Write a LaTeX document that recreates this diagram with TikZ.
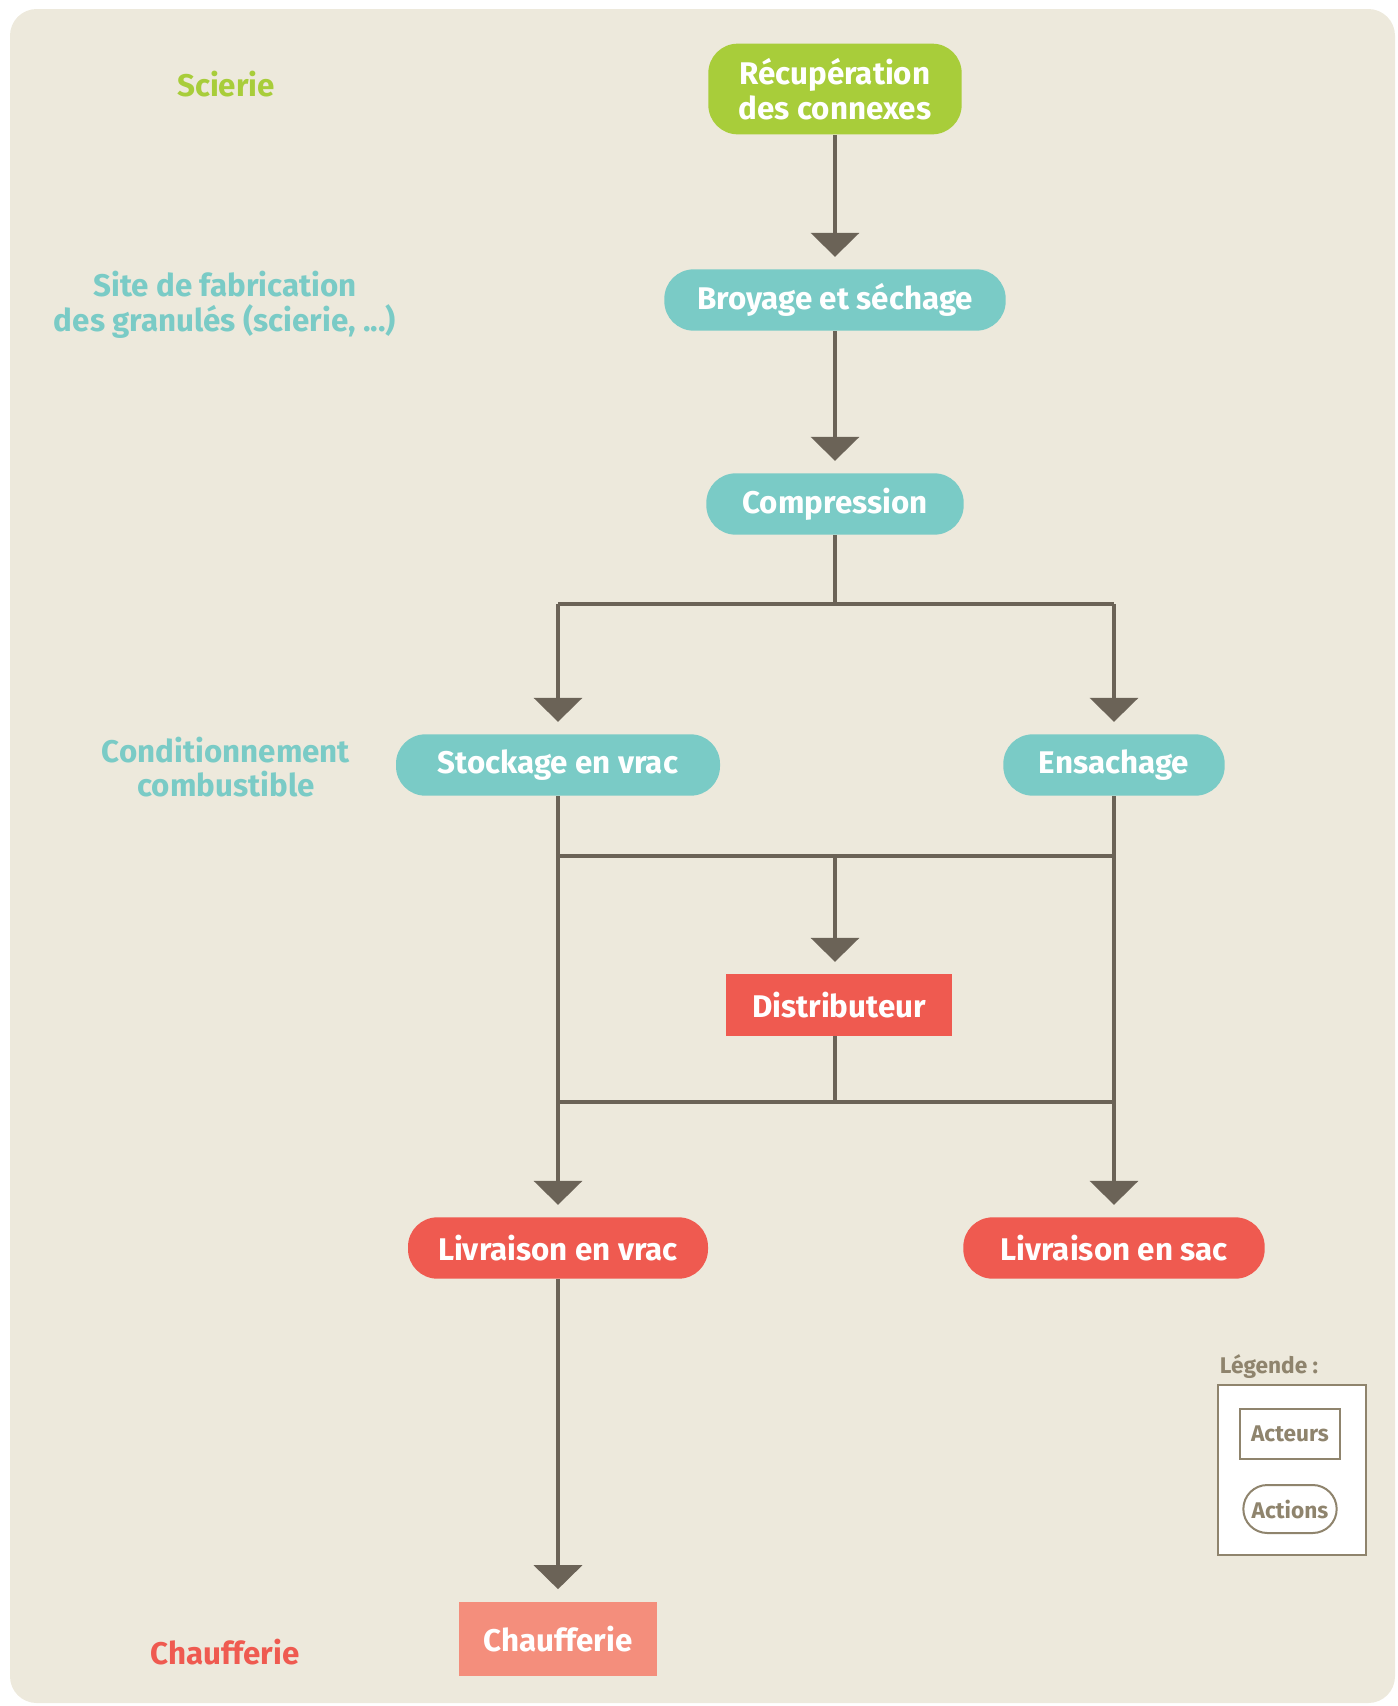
\documentclass[tikz,border=0pt]{standalone}
\usepackage{fontspec}
\setmainfont{Fira Sans}
\usetikzlibrary{arrows.meta}

\definecolor{fond}{HTML}{EDE9DC}
\definecolor{vert}{HTML}{A8CD3A}
\definecolor{turquoise}{HTML}{7ACBC6}
\definecolor{rouge}{HTML}{EF5A50}
\definecolor{saumon}{HTML}{F48E7C}
\definecolor{trait}{HTML}{6B6357}
\definecolor{legende}{HTML}{8F846D}

\tikzset{every picture/.style={line width=0.75pt}}
\tikzset{
  action/.style={rounded corners=22pt, minimum height=46pt, inner sep=0pt, text=white, font=\fontsize{23.5}{26}\selectfont\bfseries, align=center},
  acteur/.style={rectangle, minimum height=46pt, inner sep=0pt, text=white, font=\fontsize{23.5}{26}\selectfont\bfseries},
  etape/.style={font=\fontsize{23.5}{26}\selectfont\bfseries, align=center},
  liaison/.style={draw=trait, line width=3pt},
  fleche/.style={liaison, -{Triangle[width=36pt,length=18pt]}, shorten >=9pt},
  legtexte/.style={font=\fontsize{17}{20}\selectfont\bfseries, text=legende}
}

\begin{document}
\begin{tikzpicture}[x=0.75pt,y=0.75pt,yscale=-1,xscale=1]
\useasboundingbox (0,0) rectangle (1397,1706);

%Fond
\fill [fond, rounded corners=20pt] (10,9) rectangle (1395,1703);

% Etapes (colonne de gauche)
\node [etape, text=vert] (scierie) at (226,84) {Scierie};
\node [etape, text=turquoise] (site) at (225,305) {Site de fabrication\\des granulés (scierie, ...)};
\node [etape, text=turquoise] (condit) at (226,767) {Conditionnement\\combustible};
\node [etape, text=rouge] (chauff) at (225,1652) {Chaufferie};

% Actions et acteurs
\node [action, fill=vert, minimum width=190pt, minimum height=68pt] (recup) at (835,89) {Récupération\\des connexes};
\node [action, fill=turquoise, minimum width=256pt] (broyage) at (835,300) {Broyage et séchage};
\node [action, fill=turquoise, minimum width=193pt] (compression) at (835,504) {Compression};
\node [action, fill=turquoise, minimum width=243pt] (stockage) at (558,765) {Stockage en vrac};
\node [action, fill=turquoise, minimum width=166pt] (ensachage) at (1114,765) {Ensachage};
\node [acteur, fill=rouge, minimum width=170pt] (distributeur) at (839,1005) {Distributeur};
\node [action, fill=rouge, minimum width=225pt] (livvrac) at (558,1248) {Livraison en vrac};
\node [action, fill=rouge, minimum width=226pt] (livsac) at (1114,1248) {Livraison en sac};
\node [acteur, fill=saumon, minimum width=149pt, minimum height=56pt] (chaufferie) at (558,1639) {Chaufferie};

% Points de raccord
\coordinate (splitG) at (558,604);
\coordinate (splitD) at (1114,604);
\coordinate (mixG) at (558,856);
\coordinate (mixC) at (835,856);
\coordinate (mixD) at (1114,856);
\coordinate (retG) at (558,1102);
\coordinate (retD) at (1114,1102);

% Liaisons
\draw [fleche] (recup) -- (broyage);
\draw [fleche] (broyage) -- (compression);
\draw [liaison] (compression.south) -- (compression.south |- splitG);
\draw [liaison] (splitG) -- (splitD);
\draw [fleche] (splitG) -- (stockage);
\draw [fleche] (splitD) -- (ensachage);
\draw [fleche] (stockage) -- (livvrac);
\draw [fleche] (ensachage) -- (livsac);
\draw [liaison] (mixG) -- (mixD);
\draw [fleche] (mixC) -- (mixC |- distributeur.north);
\draw [liaison] (mixC |- distributeur.south) -- (mixC |- retG);
\draw [liaison] (retG) -- (retD);
\draw [fleche] (livvrac) -- (chaufferie);

% Legende
\node [legtexte] (legtitre) at (1269,1367) {Légende :};
\node [draw=legende, line width=1.5pt, fill=white, minimum width=111pt, minimum height=128pt] (legcadre) at (1292,1470) {};
\node [legtexte, draw=legende, line width=1.5pt, minimum width=75pt, minimum height=37pt] (legacteurs) at (1290,1434) {Acteurs};
\node [legtexte, draw=legende, line width=1.5pt, rounded corners=18pt, minimum width=70pt, minimum height=36pt] (legactions) at (1290,1509) {Actions};

\end{tikzpicture}
\end{document}
